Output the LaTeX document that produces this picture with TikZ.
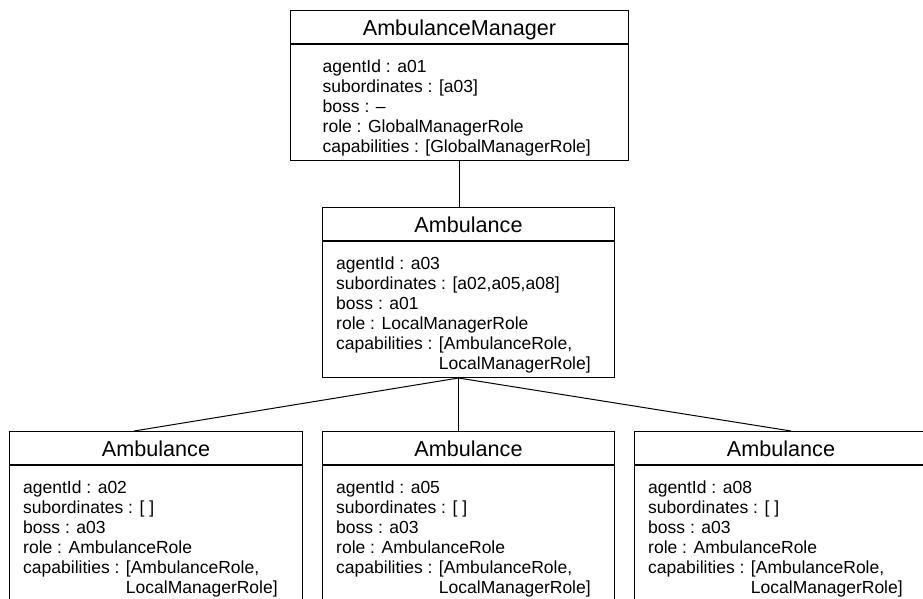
\documentclass[tikz,border=0pt]{standalone}
\usepackage{fontspec}
\setmainfont{Liberation Sans}
\begin{document}
\begin{tikzpicture}[x=1pt,y=-1pt,
  umlbox/.style={draw, line width=1pt, rectangle, inner sep=0pt, anchor=north west},
  sepline/.style={line width=1.6pt},
  classname/.style={anchor=base, inner sep=0pt, font=\fontsize{21.6}{26}\selectfont},
  attrs/.style={anchor=north west, inner sep=0pt, align=left, font=\fontsize{17.5}{20}\selectfont},
  link/.style={line width=1pt}]
\clip (0,0) rectangle (923,598);

% #1 name, #2 x, #3 y, #4 width, #5 height, #6 class name, #7 text indent, #8 attributes
% the strut (14pt above the baseline) puts the first baseline 62pt below the box top
\newcommand{\agentbox}[8]{%
  \node[umlbox, minimum width=#4pt, minimum height=#5pt] (#1) at (#2,#3) {};
  \draw[sepline] ([yshift=-34pt]#1.north west) -- ([yshift=-34pt]#1.north east);
  \node[classname] (#1-name) at ([yshift=-25.5pt]#1.north) {#6};
  \node[attrs] (#1-attrs) at ([xshift=#7pt, yshift=-48pt]#1.north west) {\strut#8};
}
\newcommand{\capsline}{capabilities : [AmbulanceRole,\\\phantom{capabilities : }LocalManagerRole]}

\agentbox{a01}{290}{10}{338}{150}{AmbulanceManager}{32.5}%
  {agentId : a01\\subordinates : [a03]\\boss : –\\role : GlobalManagerRole\\capabilities : [GlobalManagerRole]}
\agentbox{a03}{322}{207}{292}{170}{Ambulance}{14}%
  {agentId : a03\\subordinates : [a02,a05,a08]\\boss : a01\\role : LocalManagerRole\\\capsline}
\agentbox{a02}{9}{431}{293}{200}{Ambulance}{14}%
  {agentId : a02\\subordinates : [ ]\\boss : a03\\role : AmbulanceRole\\\capsline}
\agentbox{a05}{322}{431}{292}{200}{Ambulance}{14}%
  {agentId : a05\\subordinates : [ ]\\boss : a03\\role : AmbulanceRole\\\capsline}
\agentbox{a08}{634}{431}{293}{200}{Ambulance}{14}%
  {agentId : a08\\subordinates : [ ]\\boss : a03\\role : AmbulanceRole\\\capsline}

% hierarchy links
\draw[link] (a01.south) -- (a01.south |- a03.north);
\coordinate (hub) at ([xshift=-10pt]a03.south);
\draw[link] (hub) -- ([xshift=-22pt]a02.north);
\draw[link] (hub) -- (hub |- a05.north);
\draw[link] (hub) -- ([xshift=10pt]a08.north);
\end{tikzpicture}
\end{document}
